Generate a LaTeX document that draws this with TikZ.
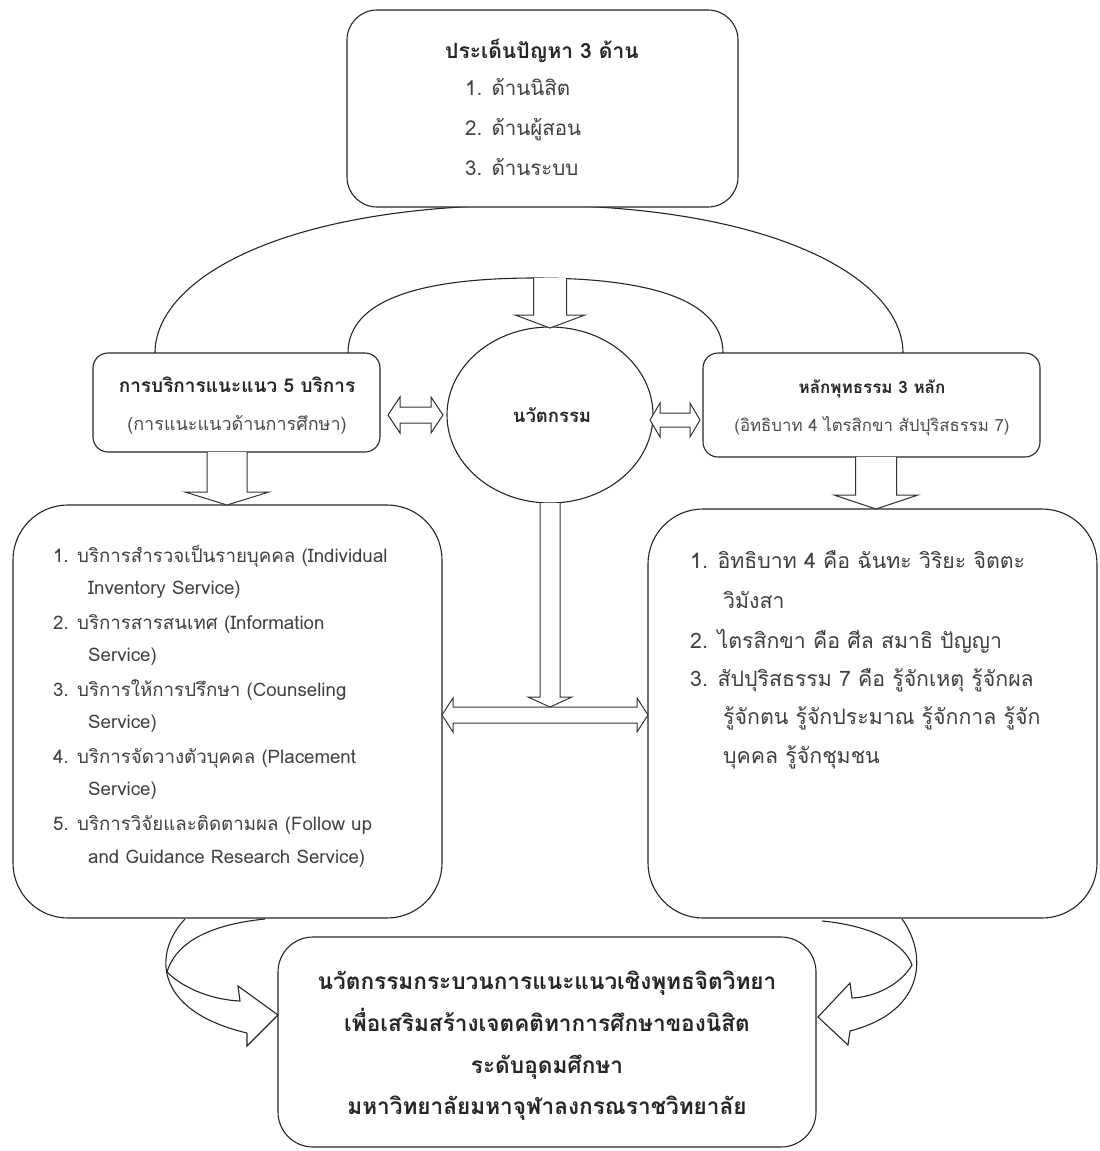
\documentclass[tikz,border=0pt]{standalone}
\usepackage{fontspec}
\setmainfont{Liberation Sans}
\newfontfamily\thai[Script=Thai]{Loma}
\usetikzlibrary{shapes.geometric}
\tikzset{
  ln/.style={draw=black!85, line width=1.1pt},
  box/.style={draw=black!85, line width=1.1pt, fill=white, rounded corners=#1, inner sep=0pt},
  blk/.style={draw=black!80, line width=1pt, fill=white, line join=miter},
  curv/.style={draw=black!85, line width=1.1pt},
  tt/.style={inner sep=0pt, text=black!85, font=\thai\bfseries\fontsize{#1}{#1}\selectfont, anchor=base},
  it/.style={inner sep=0pt, text=black!75, font=\thai\fontsize{#1}{#1}\selectfont, anchor=base west},
  st/.style={inner sep=0pt, text=black!70, font=\thai\fontsize{#1}{#1}\selectfont, anchor=base},
}
% vertical block arrow pointing down: x, ytop, ytip, shaft half, head half, head length
\newcommand{\blkdown}[6]{%
  \draw[blk] (#1-#4,#2) -- (#1-#4,#3-#6) -- (#1-#5,#3-#6) -- (#1,#3) -- (#1+#5,#3-#6) -- (#1+#4,#3-#6) -- (#1+#4,#2);}
% horizontal double block arrow: x1, x2, y, shaft half, head half, head length
\newcommand{\blkdbl}[6]{%
  \draw[blk] (#1,#3) -- (#1+#6,#3-#5) -- (#1+#6,#3-#4) -- (#2-#6,#3-#4) -- (#2-#6,#3-#5) -- (#2,#3)
    -- (#2-#6,#3+#5) -- (#2-#6,#3+#4) -- (#1+#6,#3+#4) -- (#1+#6,#3+#5) -- cycle;}
\begin{document}
\begin{tikzpicture}[x=1pt,y=-1pt]
\useasboundingbox (0,0) rectangle (1100,1151);

% arches
\coordinate (oa1) at (155,353); \coordinate (oa2) at (903,353);
\draw[ln] (oa1) .. controls (155,280) and (280,205) .. (529,205) .. controls (778,205) and (903,280) .. (oa2);
\coordinate (ia1) at (348,353); \coordinate (ia2) at (723,353);
\draw[ln] (ia1) .. controls (348,300) and (420,278) .. (535,278) .. controls (650,278) and (723,300) .. (ia2);

% boxes
\node[box=30pt, minimum width=391pt, minimum height=197pt] (top) at (542.5,108.5) {};
\node[box=15pt, minimum width=287pt, minimum height=99pt] (lmid) at (236.5,402.5) {};
\node[box=15pt, minimum width=337pt, minimum height=104pt] (rmid) at (871.5,405) {};
\node[ellipse, draw=black!85, line width=1.1pt, fill=white, minimum width=206pt, minimum height=176pt, inner sep=0pt] (inno) at (550,415) {};
\node[box=55pt, minimum width=429pt, minimum height=413pt] (lbig) at (227.5,711.5) {};
\node[box=55pt, minimum width=449pt, minimum height=409pt] (rbig) at (872.5,713.5) {};
\node[box=35pt, minimum width=538pt, minimum height=210pt] (bot) at (547,1042) {};

% top box text
\node[tt=21] (t0) at (542,58.5) {ประเด็นปัญหา 3 ด้าน};
\node[it=20.5] (t1) at (465,95.5) {1. ด้านนิสิต};
\node[it=20.5] (t2) at (465,135.5) {2. ด้านผู้สอน};
\node[it=20.5] (t3) at (465,175.5) {3. ด้านระบบ};

% middle row text
\node[tt=19] (l0) at (237,392.5) {การบริการแนะแนว 5 บริการ};
\node[st=18] (l1) at (237,430) {(การแนะแนวด้านการศึกษา)};
\node[tt=18.5] (c0) at (552,422) {นวัตกรรม};
\node[tt=17] (r0) at (872,393) {หลักพุทธรรม 3 หลัก};
\node[st=16.8] (r1) at (872,431.5) {(อิทธิบาท 4 ไตรสิกขา สัปปุริสธรรม 7)};

% left big box items
\node[it=18.7] (a1) at (53,562.5) {1. บริการสำรวจเป็นรายบุคคล (Individual};
\node[it=18.7] (a1b) at (88,594.5) {Inventory Service)};
\node[it=18.7] (a2) at (53,629.5) {2. บริการสารสนเทศ (Information};
\node[it=18.7] (a2b) at (88,661.5) {Service)};
\node[it=18.7] (a3) at (53,696.5) {3. บริการให้การปรึกษา (Counseling};
\node[it=18.7] (a3b) at (88,728.5) {Service)};
\node[it=18.7] (a4) at (53,763.5) {4. บริการจัดวางตัวบุคคล (Placement};
\node[it=18.7] (a4b) at (88,795.5) {Service)};
\node[it=18.7] (a5) at (53,830.5) {5. บริการวิจัยและติดตามผล (Follow up};
\node[it=18.7] (a5b) at (88,863.5) {and Guidance Research Service)};

% right big box items
\node[it=21.3] (b1) at (690,568) {1. อิทธิบาท 4 คือ ฉันทะ วิริยะ จิตตะ};
\node[it=21.3] (b1b) at (723,608) {วิมังสา};
\node[it=21.3] (b2) at (690,648) {2. ไตรสิกขา คือ ศีล สมาธิ ปัญญา};
\node[it=21.3] (b3) at (690,686) {3. สัปปุริสธรรม 7 คือ รู้จักเหตุ รู้จักผล};
\node[it=21.3] (b3b) at (723,724) {รู้จักตน รู้จักประมาณ รู้จักกาล รู้จัก};
\node[it=21.3] (b3c) at (723,763) {บุคคล รู้จักชุมชน};

% bottom box text
\node[tt=22.6] (d1) at (547,989) {นวัตกรรมกระบวนการแนะแนวเชิงพุทธจิตวิทยา};
\node[tt=22.6] (d2) at (547,1031) {เพื่อเสริมสร้างเจตคติทาการศึกษาของนิสิต};
\node[tt=22.6] (d3) at (547,1073) {ระดับอุดมศึกษา};
\node[tt=22.6] (d4) at (547,1114) {มหาวิทยาลัยมหาจุฬาลงกรณราชวิทยาลัย};

% block arrows
\blkdown{550}{278}{328}{16.5}{35}{13}
\blkdown{227}{452}{505}{20}{42}{13}
\blkdown{876}{457}{509}{20.5}{42}{14}
\blkdown{550}{503}{707}{10}{22}{10}
\blkdbl{388}{443}{415}{8}{18}{12}
\blkdbl{650}{700}{420}{7}{17}{10}
\blkdbl{442}{648}{715}{8}{17}{11}

% curved arrows into bottom box
\draw[curv] (185,919) .. controls (155,950) and (150,1010) .. (247,1033);
\draw[curv, line join=miter] (265,919) .. controls (205,925) and (175,945) .. (167,972)
  .. controls (185,990) and (215,1000) .. (240,1001) -- (238,986) -- (278,1015) -- (247,1046) -- (247,1033);
\draw[curv] (902,919) .. controls (925,950) and (930,1010) .. (850,1031);
\draw[curv, line join=miter] (822,921) .. controls (875,926) and (905,945) .. (912,965)
  .. controls (900,985) and (875,997) .. (852,998) -- (850,983) -- (818,1017) -- (848,1045) -- (850,1031);
\end{tikzpicture}
\end{document}
